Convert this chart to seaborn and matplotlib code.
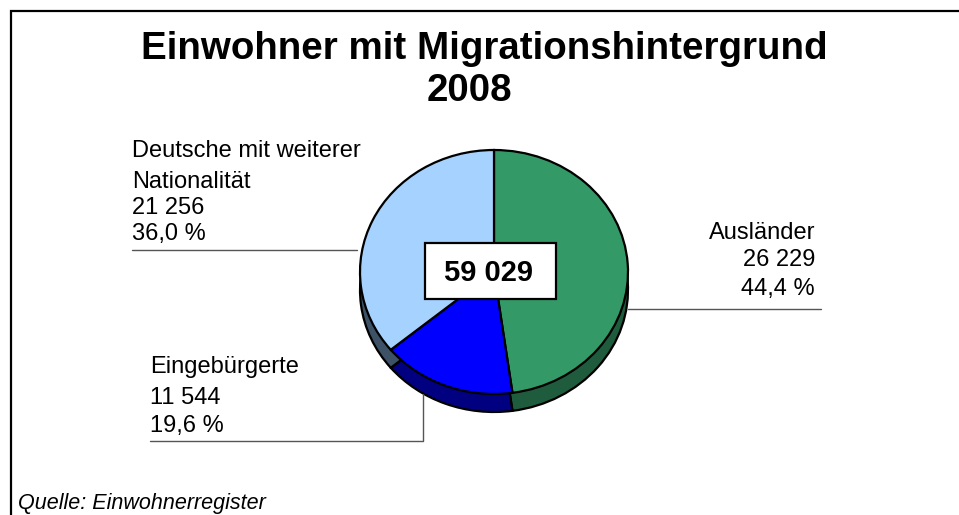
import matplotlib.pyplot as plt
import seaborn as sns

title_lines = ["Einwohner mit Migrationshintergrund", "2008"]
total_label = "59 029"
source_label = "Quelle: Einwohnerregister"

names = ["Ausländer", "Eingebürgerte", "Deutsche mit weiterer\nNationalität"]
counts = ["26 229", "11 544", "21 256"]
percents = ["44,4 %", "19,6 %", "36,0 %"]
# slice sizes as the picture draws them, the printed percents are a bit different
drawn_shares = [47.8, 16.2, 36.0]

top_colors = ["#339966", "#0000FF", "#A6D2FF"]
side_colors = ["#1F5C3D", "#000080", "#3D5266"]

W, H = 959, 515
sns.set_theme(style="white")
plt.rcParams["font.family"] = ["Liberation Sans", "DejaVu Sans"]

fig = plt.figure(figsize=(W / 100, H / 100), dpi=100)

# pie axes, positioned so the top face is an ellipse 268 x 244 px around (494, 272)
rx, ry = 134, 122
cx, cy = 494, 272
depth = 18 / ry
xpad, ypad_top, ypad_bot = 1.05, 1.05, 1.25
left = cx - rx * xpad
right = cx + rx * xpad
top = cy - ry * ypad_top
bottom = cy + ry * ypad_bot
ax_pie = fig.add_axes([left / W, 1 - bottom / H, (right - left) / W, (bottom - top) / H])

edge = {"edgecolor": "black", "linewidth": 1.6}
ax_pie.pie(drawn_shares, colors=sns.color_palette(side_colors), startangle=90,
           counterclock=False, center=(0, -depth), wedgeprops=edge)
ax_pie.pie(drawn_shares, colors=sns.color_palette(top_colors), startangle=90,
           counterclock=False, center=(0, 0), wedgeprops=edge)
ax_pie.set_aspect("auto")
ax_pie.set_xlim(-xpad, xpad)
ax_pie.set_ylim(-ypad_bot, ypad_top)

# overlay in pixel coordinates for frame, text and leader lines
ax = fig.add_axes([0, 0, 1, 1], zorder=3)
ax.set_xlim(0, W)
ax.set_ylim(H, 0)
ax.axis("off")

ax.plot([11, 11, W], [H, 11, 11], color="black", lw=1.6, solid_joinstyle="miter")

ax.text(484, 59, title_lines[0], fontsize=27.7, fontweight="bold", ha="center", va="baseline", color="black")
ax.text(469, 101, title_lines[1], fontsize=27.7, fontweight="bold", ha="center", va="baseline", color="black")

label_size = 17
name_lines = names[2].split("\n")
for y, s in zip([157, 188, 214, 240], name_lines + [counts[2], percents[2]]):
    ax.text(132, y, s, fontsize=label_size, ha="left", va="baseline", color="black")
for y, s in zip([239, 266, 295], [names[0], counts[0], percents[0]]):
    ax.text(815, y, s, fontsize=label_size, ha="right", va="baseline", color="black")
for y, s in zip([373, 404, 432], [names[1], counts[1], percents[1]]):
    ax.text(150, y, s, fontsize=label_size, ha="left", va="baseline", color="black")

gray = "#555555"
ax.plot([132, 357], [250, 250], color=gray, lw=1)
ax.plot([628, 821], [309, 309], color=gray, lw=1)
ax.plot([150, 423, 423], [441, 441, 394], color=gray, lw=1)

ax.add_patch(plt.Rectangle((425, 243), 131, 56, facecolor="white", edgecolor="black", lw=1.6, zorder=1.5))
ax.text(488, 281, total_label, fontsize=21, fontweight="bold", ha="center", va="baseline", color="black", zorder=4)

# reference clips the descenders here, kept just inside the picture so the text stays whole
ax.text(18, 509, source_label, fontsize=15.5, fontstyle="italic", ha="left", va="baseline", color="black")

fig.savefig("out.png", dpi=100, facecolor="white")
